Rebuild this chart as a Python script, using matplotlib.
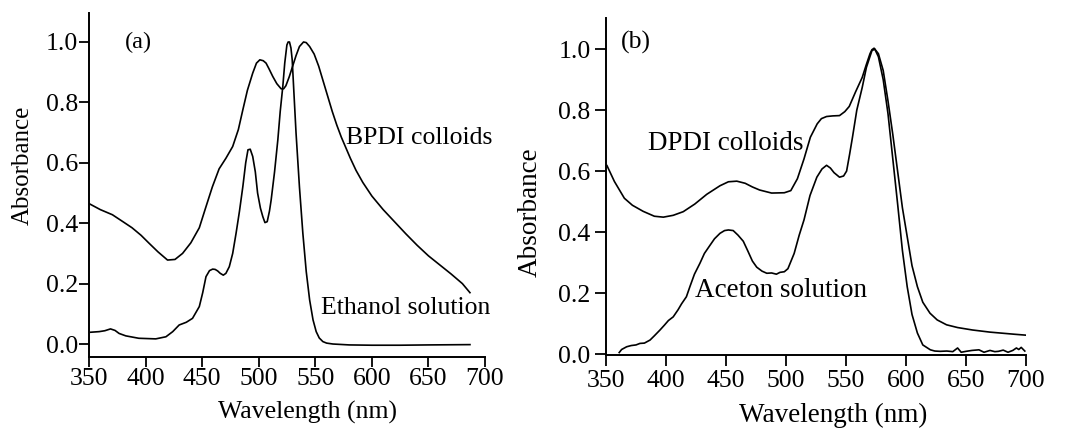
import matplotlib
matplotlib.use('Agg')
import matplotlib.pyplot as plt

plt.rcParams['font.family'] = ['Liberation Serif', 'DejaVu Serif']

# (a) BPDI colloids and ethanol solution
bpdi_x = [350, 360, 370.7, 380, 388, 396, 403, 411, 419.4, 426, 432.7, 440, 447.5,
          453, 459, 465, 471, 477, 482, 486, 490, 494.7, 498, 501, 504, 506.5,
          509, 512.4, 516, 519.8, 522, 524, 527, 530, 533, 536, 539.6, 542, 545,
          549, 553, 557, 561, 565, 569, 573, 577, 581, 586, 592, 600, 610, 620,
          630, 640, 650, 660, 670, 680, 686.7]
bpdi_y = [0.465, 0.445, 0.428, 0.405, 0.385, 0.36, 0.334, 0.305, 0.278, 0.28,
          0.30, 0.335, 0.385, 0.45, 0.52, 0.58, 0.615, 0.654, 0.71, 0.776,
          0.84, 0.897, 0.93, 0.941, 0.938, 0.93, 0.912, 0.886, 0.862, 0.845,
          0.845, 0.855, 0.885, 0.92, 0.955, 0.985, 1.0, 0.998, 0.985, 0.96,
          0.92, 0.87, 0.82, 0.77, 0.725, 0.685, 0.65, 0.615, 0.575, 0.535,
          0.49, 0.445, 0.405, 0.365, 0.327, 0.292, 0.262, 0.232, 0.2, 0.17]

etoh_x = [351.5, 359, 364, 369, 373, 376.6, 382.5, 394, 409, 418, 424, 429.7,
          436, 441.5, 447.5, 450.5, 453.4, 456.5, 459.3, 461.5, 463.7, 466,
          468.7, 471, 474, 477, 480, 483, 486, 488.5, 490.5, 492.5, 494.7,
          497, 499, 501.5, 503.6, 505.5, 507.5, 509.5, 511, 514, 516.9, 519,
          521.3, 523, 524.9, 526, 527.2, 528.5, 529.6, 531, 533, 536, 539,
          542, 545, 548, 550.8, 553.5, 556.7, 560, 565.6, 580, 600, 624.7,
          650, 686.7]
etoh_y = [0.039, 0.041, 0.044, 0.05, 0.045, 0.035, 0.027, 0.019, 0.017, 0.024,
          0.041, 0.063, 0.072, 0.085, 0.124, 0.17, 0.223, 0.243, 0.248, 0.247,
          0.242, 0.234, 0.228, 0.234, 0.256, 0.3, 0.367, 0.44, 0.522, 0.6,
          0.643, 0.645, 0.621, 0.57, 0.5, 0.45, 0.422, 0.402, 0.405, 0.44,
          0.477, 0.57, 0.676, 0.77, 0.853, 0.93, 0.99, 1.0, 1.0, 0.98, 0.941,
          0.84, 0.698, 0.52, 0.367, 0.24, 0.146, 0.08, 0.041, 0.02, 0.008,
          0.003, 0.0, -0.003, -0.004, -0.004, -0.003, -0.002]

# (b) DPDI colloids and aceton solution
dpdi_x = [350.8, 357, 365.3, 372, 381, 390.3, 397.8, 406, 414.4, 424, 434, 445,
          452, 459, 466, 472, 478, 488, 498.6, 504, 509.5, 515, 520.3, 526,
          529.5, 533.8, 539, 544.6, 549, 552.7, 558, 563.5, 567, 570, 571.6,
          573.4, 577, 581, 585, 589, 593, 597, 601, 605, 609.5, 614, 620,
          626, 633.8, 643, 655.4, 670, 690.5, 700]
dpdi_y = [0.618, 0.566, 0.511, 0.488, 0.468, 0.452, 0.449, 0.455, 0.467, 0.492,
          0.524, 0.552, 0.565, 0.567, 0.56, 0.548, 0.538, 0.528, 0.529, 0.536,
          0.575, 0.64, 0.711, 0.755, 0.772, 0.779, 0.781, 0.782, 0.795, 0.812,
          0.86, 0.907, 0.95, 0.985, 0.998, 1.003, 0.985, 0.93, 0.83, 0.72,
          0.6, 0.48, 0.385, 0.29, 0.221, 0.17, 0.134, 0.112, 0.096, 0.087,
          0.079, 0.072, 0.065, 0.062]

acet_x = [361, 363, 367.2, 371, 375, 378.3, 382, 386.7, 390.3, 395, 398.7,
          402, 406, 410, 413, 417, 420, 423.7, 428.3, 432, 436, 440.4, 445,
          448.8, 452, 456, 460, 464.4, 468.2, 472, 475.6, 480, 484, 488, 492,
          495, 498.6, 501.6, 506.8, 511, 515, 520, 525.7, 530, 533.8, 537,
          540, 544.6, 548, 550.5, 553, 555.4, 559, 563.5, 567, 571.6, 574,
          577, 581, 585, 589, 593, 597, 601, 605, 609.5, 614, 620.3, 624,
          628.4, 634, 639, 643, 646, 650, 655, 660.8, 665, 670, 674, 677,
          681, 685, 689, 692, 694, 696, 699]
acet_y = [0.005, 0.015, 0.024, 0.028, 0.03, 0.035, 0.036, 0.046, 0.06, 0.079,
          0.095, 0.11, 0.122, 0.145, 0.165, 0.188, 0.222, 0.262, 0.298, 0.33,
          0.353, 0.378, 0.396, 0.405, 0.407, 0.405, 0.39, 0.37, 0.338, 0.305,
          0.285, 0.272, 0.265, 0.266, 0.262, 0.268, 0.27, 0.28, 0.33, 0.39,
          0.44, 0.52, 0.58, 0.607, 0.619, 0.61, 0.595, 0.58, 0.584, 0.6,
          0.655, 0.711, 0.8, 0.874, 0.94, 0.995, 1.0, 0.975, 0.9, 0.788,
          0.64, 0.493, 0.34, 0.221, 0.13, 0.069, 0.03, 0.014, 0.01, 0.009,
          0.01, 0.008, 0.02, 0.006, 0.009, 0.012, 0.014, 0.006, 0.012, 0.008,
          0.009, 0.013, 0.006, 0.012, 0.02, 0.015, 0.022, 0.01]

ticks_x = [350, 400, 450, 500, 550, 600, 650, 700]
ticks_y = [0.0, 0.2, 0.4, 0.6, 0.8, 1.0]

fig = plt.figure(figsize=(10.68, 4.28), dpi=100)
W, H = 1068, 428


def make_axes(left, right, top, bottom, ylim, fs, tlen, tpad):
    ax = fig.add_axes([left / W, 1 - bottom / H, (right - left) / W, (bottom - top) / H])
    ax.set_xlim(350, 700)
    ax.set_ylim(*ylim)
    ax.set_xticks(ticks_x)
    ax.set_yticks(ticks_y)
    ax.set_yticklabels([f'{v:.1f}' for v in ticks_y])
    for s in ['top', 'right']:
        ax.spines[s].set_visible(False)
    for s in ['left', 'bottom']:
        ax.spines[s].set_linewidth(1.4)
    ax.tick_params(direction='out', length=tlen, width=1.3, labelsize=fs, pad=tpad)
    return ax


ax1 = make_axes(89, 485, 13, 357, (-0.043, 1.096), 18.5, 7, 1)
ax1.plot(bpdi_x, bpdi_y, color='black', lw=1.2)
ax1.plot(etoh_x, etoh_y, color='black', lw=1.2)
ax1.text(382, 1.0, '(a)', fontsize=17.5, va='center')
ax1.text(577, 0.682, 'BPDI colloids', fontsize=18.5, va='center')
ax1.text(555, 0.119, 'Ethanol solution', fontsize=18.5, va='center')
fig.text(307 / W, 1 - 412 / H, 'Wavelength (nm)', fontsize=18.5, ha='center', va='center')
fig.text(23 / W, 1 - 165 / H, 'Absorbance', fontsize=18, rotation=90, ha='center', va='center')

ax2 = make_axes(606, 1026, 18, 355, (-0.003, 1.102), 18.5, 8, 3)
ax2.plot(dpdi_x, dpdi_y, color='black', lw=1.2)
ax2.plot(acet_x, acet_y, color='black', lw=1.2)
ax2.text(362, 1.023, '(b)', fontsize=18.5, va='center')
ax2.text(385, 0.692, 'DPDI colloids', fontsize=19.5, va='center')
ax2.text(424, 0.21, 'Aceton solution', fontsize=19.5, va='center')
fig.text(833 / W, 1 - 415 / H, 'Wavelength (nm)', fontsize=19.5, ha='center', va='center')
fig.text(530 / W, 1 - 212 / H, 'Absorbance', fontsize=19.5, rotation=90, ha='center', va='center')

fig.savefig('out.png', dpi=100)
